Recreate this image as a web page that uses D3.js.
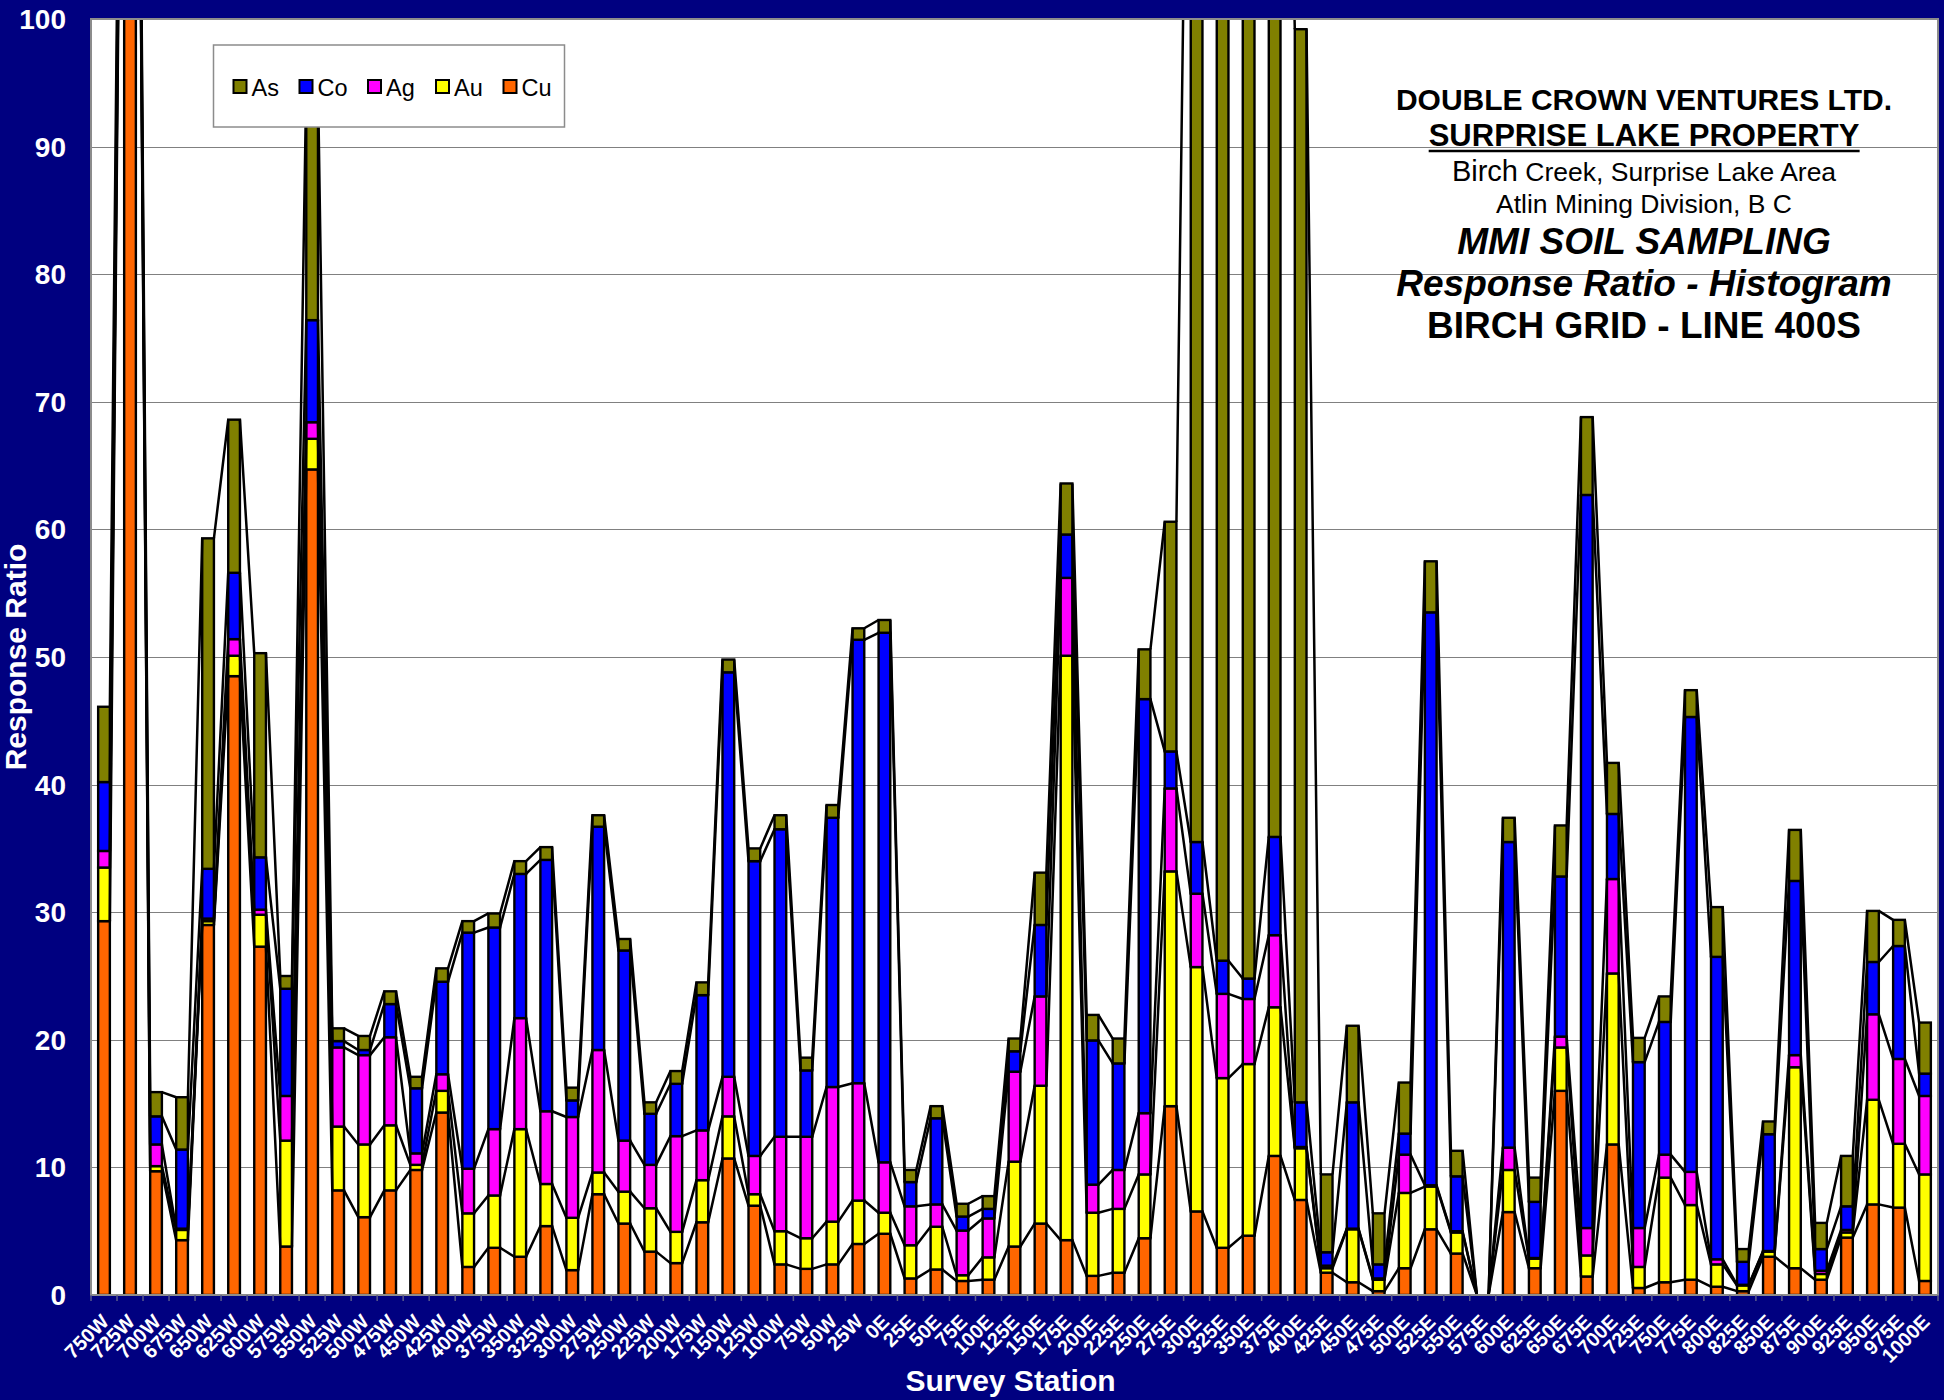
<!DOCTYPE html>
<html>
<head>
<meta charset="utf-8">
<script src="https://cdn.jsdelivr.net/npm/d3@7/dist/d3.min.js"></script>
<style>
  html, body { margin: 0; padding: 0; background: #000080; }
  svg { display: block; font-family: "Liberation Sans", Arial, sans-serif; }
</style>
</head>
<body>
<div id="chart"></div>
<script>
// survey stations along line 400S
const stations = [
  "750W", "725W", "700W", "675W", "650W", "625W", "600W", "575W", "550W", "525W",
  "500W", "475W", "450W", "425W", "400W", "375W", "350W", "325W", "300W", "275W",
  "250W", "225W", "200W", "175W", "150W", "125W", "100W", "75W", "50W", "25W",
  "0E", "25E", "50E", "75E", "100E", "125E", "150E", "175E", "200E", "225E",
  "250E", "275E", "300E", "325E", "350E", "375E", "400E", "425E", "450E", "475E",
  "500E", "525E", "550E", "575E", "600E", "625E", "650E", "675E", "700E", "725E",
  "750E", "775E", "800E", "825E", "850E", "875E", "900E", "925E", "950E", "975E",
  "1000E"
];

// response ratios per element
const cu = [
  29.3, 150, 9.7, 4.3, 29.0, 48.5, 27.3, 3.8, 64.7, 8.2,
  6.1, 8.2, 9.8, 14.3, 2.2, 3.7, 3.0, 5.4, 1.95, 7.9,
  5.6, 3.4, 2.5, 5.7, 10.7, 7.0, 2.4, 2.05, 2.4, 4.0,
  4.8, 1.3, 2.0, 1.1, 1.2, 3.8, 5.6, 4.3, 1.5, 1.75,
  4.45, 14.8, 6.55, 3.7, 4.65, 10.9, 7.45, 1.75, 1.0, 0.3,
  2.1, 5.15, 3.25, 0, 6.5, 2.1, 16.0, 1.45, 11.8, 0.55,
  1.0, 1.2, 0.65, 0.3, 3.0, 2.1, 1.2, 4.5, 7.1, 6.85,
  1.1
];
const au = [
  4.2, 1, 0.4, 0.8, 0.3, 1.6, 2.5, 8.3, 2.4, 5.0,
  5.7, 5.1, 0.4, 1.7, 4.2, 4.1, 10.0, 3.3, 4.1, 1.7,
  2.5, 3.4, 2.45, 3.3, 3.3, 0.9, 2.6, 2.4, 3.35, 3.4,
  1.65, 2.6, 3.35, 0.45, 1.75, 6.65, 10.8, 45.8, 4.95, 5.0,
  5.0, 18.4, 19.15, 13.3, 13.45, 11.65, 4.05, 0.35, 4.15, 0.9,
  5.9, 3.35, 1.65, 0, 3.3, 0.75, 3.4, 1.65, 13.4, 1.65,
  8.2, 5.85, 1.75, 0.45, 0.4, 15.75, 0.45, 0.4, 8.2, 5.0,
  8.35
];
const ag = [
  1.3, 1, 1.7, 0.1, 0.2, 1.3, 0.4, 3.5, 1.3, 6.2,
  7.0, 6.9, 0.9, 1.3, 3.5, 5.2, 8.7, 5.7, 7.9, 9.6,
  4.0, 3.4, 7.5, 3.9, 3.1, 3.0, 7.4, 7.95, 10.55, 9.2,
  3.95, 3.05, 1.75, 3.5, 3.05, 7.05, 7.0, 6.1, 2.2, 3.05,
  4.8, 6.5, 5.75, 6.6, 5.1, 5.65, 0.1, 0.2, 0.05, 0.1,
  3.0, 0.1, 0.1, 0, 1.75, 0.05, 0.85, 2.15, 7.4, 3.05,
  1.8, 2.6, 0.4, 0.05, 0.05, 0.95, 0.25, 0.2, 6.7, 6.65,
  6.15
];
const co = [
  5.4, 2, 2.2, 6.2, 3.9, 5.2, 4.1, 8.4, 8.0, 0.5,
  0.4, 2.6, 5.1, 7.25, 18.5, 15.8, 11.3, 19.7, 1.3, 17.5,
  14.9, 4.0, 4.1, 10.6, 31.7, 23.1, 24.1, 5.2, 21.1, 34.75,
  41.5, 1.9, 6.75, 1.1, 0.75, 1.6, 5.6, 3.4, 11.3, 8.35,
  32.45, 2.9, 4.05, 2.6, 1.6, 7.7, 3.5, 1.05, 9.9, 1.1,
  1.65, 44.9, 4.3, 0, 23.95, 4.4, 12.55, 57.45, 5.1, 13.0,
  10.4, 35.65, 23.7, 1.8, 9.15, 13.65, 1.7, 1.85, 4.1, 8.85,
  1.75
];
const as = [
  5.9, 3, 1.9, 4.1, 25.9, 12.0, 16.0, 1.0, 18.6, 1.0,
  1.1, 1.0, 0.9, 1.05, 0.9, 1.1, 1.0, 1.0, 1.0, 0.9,
  0.9, 0.9, 1.0, 1.0, 1.0, 1.0, 1.1, 1.0, 1.0, 0.9,
  1.0, 0.95, 0.95, 1.0, 1.0, 1.0, 4.1, 4.0, 2.0, 1.95,
  3.9, 18.0, 110, 120, 125, 110, 84.1, 6.1, 6.0, 4.0,
  4.0, 4.0, 2.0, 0, 1.9, 1.9, 4.0, 6.1, 4.0, 1.9,
  2.0, 2.1, 3.9, 1.0, 1.0, 4.0, 2.05, 3.95, 4.0, 2.05,
  4.0
];

const seriesKeys = ["Cu", "Au", "Ag", "Co", "As"];
const seriesValues = { Cu: cu, Au: au, Ag: ag, Co: co, As: as };
const seriesColors = { Cu: "#FF6600", Au: "#FFFF00", Ag: "#FF00FF", Co: "#0000FF", As: "#808000" };
const yTicks = [0, 10, 20, 30, 40, 50, 60, 70, 80, 90, 100];

const titleLines = [
  { text: "DOUBLE CROWN VENTURES LTD.", size: 30, weight: "bold", style: "normal", y: 110 },
  { text: "SURPRISE LAKE PROPERTY", size: 31, weight: "bold", style: "normal", y: 146 },
  { text: "Atlin Mining Division, B C", size: 26.5, weight: "normal", style: "normal", y: 213 },
  { text: "MMI SOIL SAMPLING", size: 37, weight: "bold", style: "italic", y: 254 },
  { text: "Response Ratio - Histogram", size: 37, weight: "bold", style: "italic", y: 296 },
  { text: "BIRCH GRID - LINE 400S", size: 37, weight: "bold", style: "normal", y: 338 }
];

const renderChart = container => {
  const width = 1944,
    height = 1400,
    plotLeft = 91,
    plotRight = 1938,
    plotTop = 19,
    plotBottom = 1295,
    barInner = 0.55;

  const svg = d3
    .select(container)
    .append("svg")
    .attr("width", width)
    .attr("height", height);

  svg.append("rect").attr("width", width).attr("height", height).attr("fill", "#000080");

  const x = d3
    .scaleBand()
    .domain(stations)
    .range([plotLeft, plotRight])
    .paddingInner(barInner)
    .paddingOuter(barInner / 2);

  const y = d3.scaleLinear().domain([0, 100]).range([plotBottom, plotTop]);

  const rows = stations.map((s, i) => {
    const row = { station: s };
    seriesKeys.forEach(k => (row[k] = seriesValues[k][i]));
    return row;
  });
  const layers = d3.stack().keys(seriesKeys)(rows);

  // plot area
  svg
    .append("rect")
    .attr("x", plotLeft)
    .attr("y", plotTop)
    .attr("width", plotRight - plotLeft)
    .attr("height", plotBottom - plotTop)
    .attr("fill", "#ffffff");

  svg
    .append("defs")
    .append("clipPath")
    .attr("id", "plot-clip")
    .append("rect")
    .attr("x", plotLeft)
    .attr("y", plotTop)
    .attr("width", plotRight - plotLeft)
    .attr("height", plotBottom - plotTop);

  // gridlines
  svg
    .append("g")
    .selectAll("line")
    .data(yTicks.slice(1, -1))
    .enter()
    .append("line")
    .attr("x1", plotLeft)
    .attr("x2", plotRight)
    .attr("y1", d => Math.round(y(d)) + 0.5)
    .attr("y2", d => Math.round(y(d)) + 0.5)
    .attr("stroke", "#808080")
    .attr("stroke-width", 1);

  const plot = svg.append("g").attr("clip-path", "url(#plot-clip)");

  // stacked bars
  plot
    .selectAll("g.layer")
    .data(layers)
    .enter()
    .append("g")
    .classed("layer", true)
    .attr("fill", d => seriesColors[d.key])
    .selectAll("rect")
    .data(d => d.filter(p => p[1] - p[0] > 0))
    .enter()
    .append("rect")
    .attr("x", d => x(d.data.station))
    .attr("y", d => y(d[1]))
    .attr("width", x.bandwidth())
    .attr("height", d => y(d[0]) - y(d[1]))
    .attr("stroke", "#000")
    .attr("stroke-width", 2.4);

  // series lines joining the top of each segment to the next bar
  const bw = x.bandwidth();
  layers.forEach(layer => {
    const segs = d3.pairs(layer).map(
      ([a, b]) =>
        `M${x(a.data.station) + bw},${y(a[1])}L${x(b.data.station)},${y(b[1])}`
    );
    plot
      .append("path")
      .attr("d", segs.join(""))
      .attr("fill", "none")
      .attr("stroke", "#000")
      .attr("stroke-width", 2.5);
  });

  // plot border
  svg
    .append("rect")
    .attr("x", plotLeft)
    .attr("y", plotTop)
    .attr("width", plotRight - plotLeft)
    .attr("height", plotBottom - plotTop)
    .attr("fill", "none")
    .attr("stroke", "#8c8c8c")
    .attr("stroke-width", 2);

  // x axis ticks between stations
  const step = x.step();
  svg
    .append("g")
    .selectAll("line")
    .data(d3.range(stations.length + 1))
    .enter()
    .append("line")
    .attr("x1", i => plotLeft + i * step)
    .attr("x2", i => plotLeft + i * step)
    .attr("y1", plotBottom)
    .attr("y2", plotBottom + 6)
    .attr("stroke", "#5a5a8c")
    .attr("stroke-width", 1.5);

  // y tick labels
  svg
    .append("g")
    .selectAll("text")
    .data(yTicks)
    .enter()
    .append("text")
    .attr("x", 66)
    .attr("y", d => y(d))
    .attr("dy", "0.36em")
    .attr("text-anchor", "end")
    .attr("fill", "#fff")
    .style("font-size", "28px")
    .style("font-weight", "bold")
    .text(d => d);

  // x tick labels, rotated
  svg
    .append("g")
    .selectAll("text")
    .data(stations)
    .enter()
    .append("text")
    .attr(
      "transform",
      d => "translate(" + (x(d) + bw / 2 + 6) + "," + 1323 + ") rotate(-45)"
    )
    .attr("text-anchor", "end")
    .attr("fill", "#fff")
    .style("font-size", "20px")
    .style("font-weight", "bold")
    .text(d => d);

  // axis titles
  svg
    .append("text")
    .attr("x", (plotLeft + plotRight) / 2 - 4)
    .attr("y", 1391)
    .attr("text-anchor", "middle")
    .attr("fill", "#fff")
    .style("font-size", "30px")
    .style("font-weight", "bold")
    .text("Survey Station");

  svg
    .append("text")
    .attr("transform", "translate(26," + (plotTop + plotBottom) / 2 + ") rotate(-90)")
    .attr("text-anchor", "middle")
    .attr("fill", "#fff")
    .style("font-size", "30px")
    .style("font-weight", "bold")
    .text("Response Ratio");

  // legend
  const legend = svg.append("g");
  legend
    .append("rect")
    .attr("x", 213.5)
    .attr("y", 45)
    .attr("width", 351)
    .attr("height", 82)
    .attr("fill", "#fff")
    .attr("stroke", "#8c8c8c")
    .attr("stroke-width", 1.5);

  const legendKeys = seriesKeys.slice().reverse();
  const legendX = [233.5, 299.5, 368, 436, 503.5];
  const items = legend
    .selectAll("g.item")
    .data(legendKeys)
    .enter()
    .append("g")
    .classed("item", true)
    .attr("transform", (d, i) => "translate(" + legendX[i] + ",80)");
  items
    .append("rect")
    .attr("width", 13)
    .attr("height", 13)
    .attr("fill", d => seriesColors[d])
    .attr("stroke", "#000")
    .attr("stroke-width", 2);
  items
    .append("text")
    .attr("x", 18)
    .attr("y", 15.5)
    .style("font-size", "23.5px")
    .attr("fill", "#000")
    .text(d => d);

  // title block
  const titleX = 1644;
  const title = svg.append("g").attr("text-anchor", "middle").attr("fill", "#000");
  titleLines.forEach(l => {
    title
      .append("text")
      .attr("x", titleX)
      .attr("y", l.y)
      .style("font-size", l.size + "px")
      .style("font-weight", l.weight)
      .style("font-style", l.style)
      .text(l.text);
  });

  // underline for the property name
  const under = title.selectAll("text").filter((d, i) => i === 1).node().getBBox();
  title
    .append("line")
    .attr("x1", under.x)
    .attr("x2", under.x + under.width)
    .attr("y1", 151)
    .attr("y2", 151)
    .attr("stroke", "#000")
    .attr("stroke-width", 2.5);

  // "Birch Creek" line with the larger first word
  const birch = title.append("text").attr("x", titleX).attr("y", 181).style("font-size", "26.5px");
  birch.append("tspan").style("font-size", "29px").text("Birch");
  birch.append("tspan").text(" Creek, Surprise Lake Area");
};

renderChart("#chart");
</script>
</body>
</html>
